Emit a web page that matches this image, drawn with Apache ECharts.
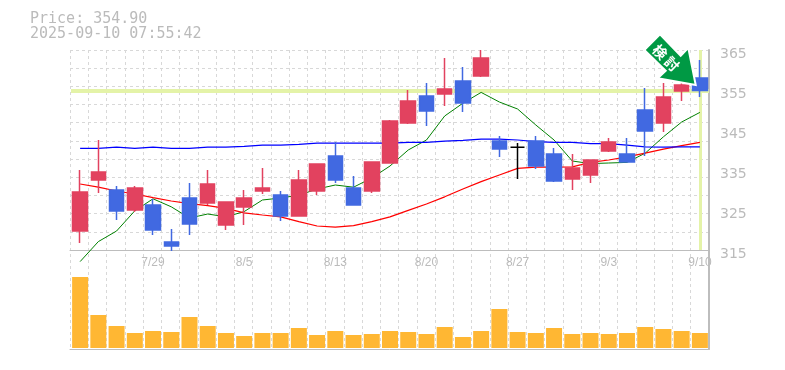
<!DOCTYPE html>
<html><head><meta charset="utf-8">
<style>html,body{margin:0;padding:0;background:#fff}#c{width:785px;height:370px}</style>
<script src="https://cdn.jsdelivr.net/npm/echarts@6/dist/echarts.min.js"></script>
</head><body><div id="c"></div>
<script>
const dates = ['7/23','7/24','7/25','7/28','7/29','7/30','7/31','8/1','8/4','8/5','8/6','8/7','8/8','8/12','8/13','8/14','8/15','8/18','8/19','8/20','8/21','8/22','8/25','8/26','8/27','8/28','8/29','9/1','9/2','9/3','9/4','9/5','9/8','9/9','9/10'];
const tickDates = ['7/29','8/5','8/13','8/20','8/27','9/3','9/10'];
// [open, close, low, high]
const candles = [
[319.75,329.5,316.75,335],[332.5,334.5,329.25,342.5],[330,324.75,322.5,331],[325,330.5,324.5,331],[326.25,320,318.75,327.75],
[317,316,314.75,320.25],[328,321.5,318.75,331.75],[326.75,331.5,326.25,335],[321.25,327,320,327],[325.75,328,321.25,330],
[329.75,330.5,329,335.5],[328.75,323.5,322.25,329.75],[323.5,332.5,323.5,335],[329.75,336.5,328.75,336.5],[338.5,332.5,331.75,342],
[330.5,326.25,326.25,333.5],[329.75,337,329.25,337],[336.75,347.25,336.75,347.5],[346.75,352.25,346.5,355],[353.5,349.75,346,356.75],
[354,355.25,351,363],[357.25,351.75,349.5,360.75],[358.5,363,358.25,365],[342.25,340.25,338.25,343.5],[340.7,340.7,332.75,341.75],
[342.25,336,335.25,343.5],[339,332.25,332,340.5],[332.75,335.5,330,339],[333.75,337.5,331.75,337.5],[339.75,342,339.5,343],
[339,337,337,343],[350,344.75,338.5,355.5],[346.75,353.25,344.5,356.75],[354.75,356.25,352.25,357.5],[358,354.9,353.25,362.5]];
const maShort = [312.1,317.1,319.75,324.8,327.8,325.8,323,324,323.3,324.6,327.5,328,328.7,330.25,331.25,330.7,333,336,340,342.5,348.5,351.7,354.4,352,350.25,346.25,342.5,337.25,336.6,336.75,336.9,339.2,343.3,347,349.4];
const maMid = [331.5,330.7,329.75,329,328.1,327.25,326.6,326.1,325.4,324.3,323.75,323.3,322.1,321,320.7,321.1,322.1,323.3,324.9,326.5,328.3,330.25,332.1,333.75,335.4,335.7,335.7,335.8,336.9,337.5,338.3,339.2,340.2,341.1,341.9];
const maLong = [340.4,340.4,340.7,340.4,340.7,340.4,340.4,340.7,340.7,340.9,341.2,341.2,341.4,341.7,341.7,341.7,341.7,341.7,341.9,341.9,342.2,342.4,342.7,342.7,342.5,342.1,341.9,341.9,341.6,341.6,341.2,340.8,340.7,340.8,340.8];
const volumes = [71,33,22,15,17,16,31,22,15,12,15,15,20,13,17,13,14,17,16,14,21,11,17,39,16,15,20,14,15,14,15,21,19,17,15];
const lastPrice = 354.90;
const stamp = '2025-09-10 07:55:42';

const GRID='#d8d8d8', AX='#bdbdbd', TXT='#bbbbbb', UP='#E2425F', DOWN='#4169E1';
const dashed={show:true,interval:0,lineStyle:{color:GRID,type:[3,3],width:1}};
const line=(name,data,color,width)=>({name,type:'line',data,xAxisIndex:0,yAxisIndex:0,symbol:'none',clip:false,z:3,
  lineStyle:{color,width},silent:true,animation:false});
const option={
 animation:false,
 textStyle:{fontFamily:'DejaVu Sans'},
 title:{left:30,top:12,padding:0,text:'Price: '+lastPrice.toFixed(2)+'\n'+stamp,
   textStyle:{fontFamily:'DejaVu Sans Mono',fontWeight:'normal',fontSize:15,lineHeight:15,color:TXT}},
 grid:[
  {left:71,top:50,width:638,height:200},
  {left:71,top:258,width:638,height:90},
  {left:70,top:50,width:639,height:200},
  {left:70,top:50,width:639,height:299}
 ],
 xAxis:[
  {type:'category',gridIndex:0,data:dates,axisTick:{show:false},axisLine:{show:false},splitLine:{show:false},
   axisLabel:{interval:0,margin:7,color:TXT,fontFamily:'Liberation Sans',fontSize:12,
     formatter:v=>tickDates.includes(v)?v:''}},
  {type:'category',gridIndex:1,data:dates,axisTick:{show:false},axisLine:{show:false},axisLabel:{show:false},splitLine:{show:false}},
  {type:'category',gridIndex:2,data:dates,axisTick:{show:false},axisLabel:{show:false},splitLine:{show:false},
   axisLine:{show:true,lineStyle:{color:AX,width:1}}},
  {type:'category',gridIndex:3,data:dates,axisTick:{show:false},axisLabel:{show:false},splitLine:dashed,
   axisLine:{show:true,lineStyle:{color:AX,width:1}}}
 ],
 yAxis:[
  {type:'value',gridIndex:0,position:'right',min:315,max:365,interval:10,axisLine:{show:false},axisTick:{show:false},splitLine:{show:false},
   axisLabel:{margin:11,color:TXT,fontFamily:'DejaVu Sans',fontSize:14,verticalAlign:'top',lineHeight:8}},
  {type:'value',gridIndex:1,min:0,max:90,show:false},
  {type:'value',gridIndex:2,min:0,max:11,interval:1,axisLine:{show:false},axisTick:{show:false},axisLabel:{show:false},splitLine:dashed},
  {type:'value',gridIndex:3,position:'right',min:0,max:1,axisTick:{show:false},axisLabel:{show:false},splitLine:{show:false},
   axisLine:{show:true,lineStyle:{color:AX,width:2}}}
 ],
 series:[
  {type:'line',name:'last',data:[],xAxisIndex:0,yAxisIndex:0,z:2,silent:true,
   markLine:{z:1,silent:true,symbol:'none',label:{show:false},animation:false,data:[
     {yAxis:lastPrice,lineStyle:{color:'#E4F3A8',width:4,type:'solid'}},
     {xAxis:dates[34],lineStyle:{color:'#E4F3A8',width:3,type:'solid'}}]}},
  line('MA short',maShort,'#008000',1),
  line('MA mid',maMid,'#ff0000',1.25),
  line('MA long',maLong,'#0000ff',1.25),
  {type:'candlestick',name:'price',xAxisIndex:0,yAxisIndex:0,z:4,clip:false,barWidth:15,silent:true,
   data:candles.map(c=>c[0]===c[1]?{value:c,itemStyle:{color:'#000',color0:'#000',borderColor:'#000',borderColor0:'#000'}}:c),
   itemStyle:{color:UP,color0:DOWN,borderColor:UP,borderColor0:DOWN,borderWidth:1.5}},
  {type:'bar',name:'volume',xAxisIndex:1,yAxisIndex:1,data:volumes,barWidth:16,itemStyle:{color:'#FFB733'},silent:true}
 ],
 graphic:[
  {type:'polygon',z:50,shape:{points:[[660,34.3],[644.3,50],[665.7,70.7],[657.7,78.3],[695.7,85],[688.3,47.7],[680.7,55.7]]},
   style:{fill:'#009944',stroke:'#fff',lineWidth:2,lineJoin:'miter'}},
  {type:'text',z:51,x:660,y:52,rotation:-Math.PI/4,style:{text:'検',fill:'#fff',font:'bold 14px "Noto Sans CJK JP"',align:'center',verticalAlign:'middle'}},
  {type:'text',z:51,x:672,y:64,rotation:-Math.PI/4,style:{text:'討',fill:'#fff',font:'bold 14px "Noto Sans CJK JP"',align:'center',verticalAlign:'middle'}}
 ]
};
const chart=echarts.init(document.getElementById('c'),null,{renderer:'canvas'});
chart.setOption(option);
</script></body></html>
